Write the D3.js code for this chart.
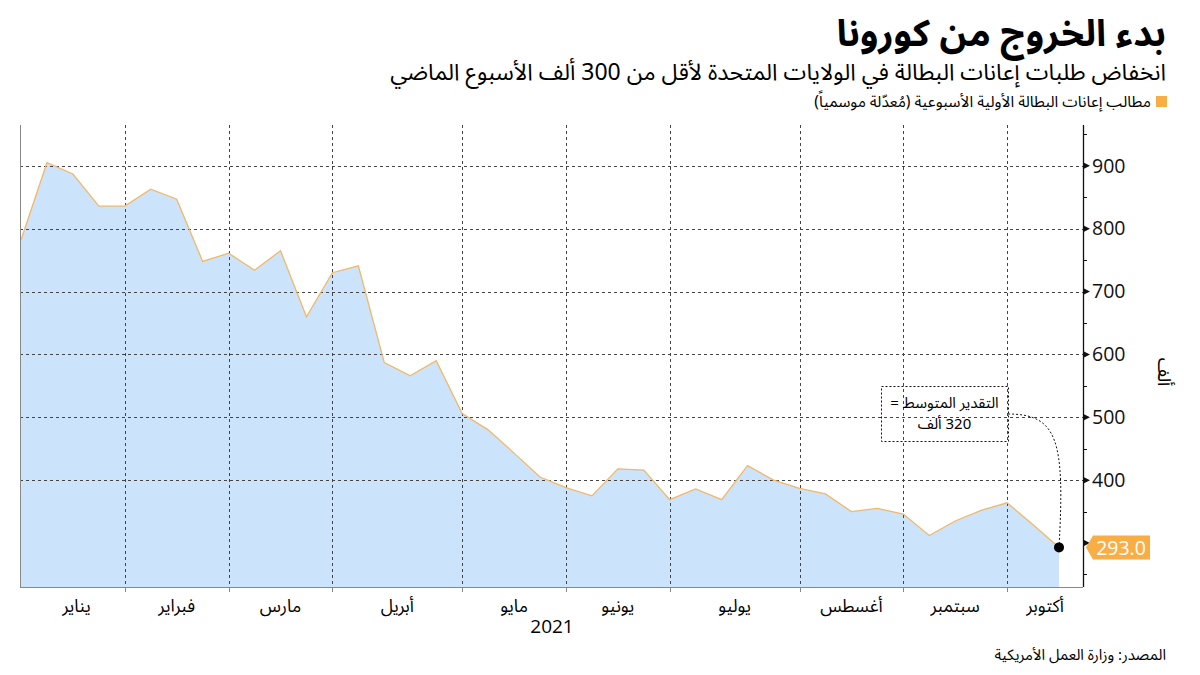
<!DOCTYPE html>
<html>
<head>
<meta charset="utf-8">
<script src="https://cdn.jsdelivr.net/npm/d3@7"></script>
<style>
  body { margin: 0; background: #fff; }
  text { font-family: "Noto Sans Arabic", "DejaVu Sans", sans-serif; }
  .num { font-family: "Open Sans", "DejaVu Sans", sans-serif; }
</style>
</head>
<body>
<div id="chart"></div>
<script>
// weekly dates (week ending) and initial claims in thousands
let weeks = [
  "2021-01-02", "2021-01-09", "2021-01-16", "2021-01-23", "2021-01-30",
  "2021-02-06", "2021-02-13", "2021-02-20", "2021-02-27", "2021-03-06",
  "2021-03-13", "2021-03-20", "2021-03-27", "2021-04-03", "2021-04-10",
  "2021-04-17", "2021-04-24", "2021-05-01", "2021-05-08", "2021-05-15",
  "2021-05-22", "2021-05-29", "2021-06-05", "2021-06-12", "2021-06-19",
  "2021-06-26", "2021-07-03", "2021-07-10", "2021-07-17", "2021-07-24",
  "2021-07-31", "2021-08-07", "2021-08-14", "2021-08-21", "2021-08-28",
  "2021-09-04", "2021-09-11", "2021-09-18", "2021-09-25", "2021-10-02",
  "2021-10-09"
];
let claims = [
  782, 905, 887, 836, 836, 863, 847, 748, 761, 734,
  765, 660, 730, 741, 587, 566, 590, 506, 480, 443,
  405, 388, 375, 418, 416, 369, 386, 369, 423, 400,
  387, 378, 350, 355, 346, 312, 335, 352, 364, 329,
  293
];
let monthBreaks = [
  "2021-01-30", "2021-02-27", "2021-03-27", "2021-05-01", "2021-05-29",
  "2021-06-26", "2021-07-31", "2021-08-28", "2021-09-25"
];
let monthNames = [
  "يناير", "فبراير", "مارس", "أبريل", "مايو",
  "يونيو", "يوليو", "أغسطس", "سبتمبر", "أكتوبر"
];
let yTicks = [300, 400, 500, 600, 700, 800, 900];
let yMinorTicks = [250, 350, 450, 550, 650, 750, 850, 950];

let svgWidth = 1200;
let svgHeight = 675;

//plot area
let plot = { left: 20, right: 1083, top: 125, bottom: 587 };

let parse = d3.timeParse("%Y-%m-%d");
let data = weeks.map((w, i) => ({ date: parse(w), value: claims[i] }));

let svg = d3
  .select("#chart")
  .append("svg")
  .attr("width", svgWidth)
  .attr("height", svgHeight);

let xScale = d3
  .scaleTime()
  .domain(d3.extent(data, (d) => d.date))
  .range([plot.left + 1, 1059]);

let yScale = d3
  .scaleLinear()
  .domain([230, 965])
  .range([plot.bottom, plot.top]);

/********************************************/
//titles
svg.append("text")
  .attr("x", 1166).attr("y", 46)
  .attr("direction", "rtl").attr("text-anchor", "start")
  .attr("font-size", 37).attr("font-weight", "bold")
  .text("بدء الخروج من كورونا");

svg.append("text")
  .attr("x", 1166).attr("y", 80)
  .attr("direction", "rtl").attr("text-anchor", "start")
  .attr("font-size", 23)
  .text("انخفاض طلبات إعانات البطالة في الولايات المتحدة لأقل من 300 ألف الأسبوع الماضي");

svg.append("rect")
  .attr("x", 1156).attr("y", 96).attr("width", 11).attr("height", 11)
  .attr("fill", "#f9ae45");

svg.append("text")
  .attr("x", 1151).attr("y", 107)
  .attr("direction", "rtl").attr("text-anchor", "start")
  .attr("font-size", 15.5)
  .text("مطالب إعانات البطالة الأولية الأسبوعية (مُعدّلة موسمياً)");

/********************************************/
//area and line
let area = d3.area()
  .x((d) => xScale(d.date))
  .y0(plot.bottom)
  .y1((d) => yScale(d.value));

let line = d3.line()
  .x((d) => xScale(d.date))
  .y((d) => yScale(d.value));

svg.append("path")
  .datum(data)
  .attr("d", area)
  .attr("fill", "#cce4fb");

/********************************************/
//gridlines
svg.append("g")
  .selectAll("line")
  .data(yTicks.filter((t) => t > 300))
  .enter()
  .append("line")
  .attr("x1", plot.left).attr("x2", plot.right)
  .attr("y1", (d) => Math.round(yScale(d)) + 0.5)
  .attr("y2", (d) => Math.round(yScale(d)) + 0.5)
  .attr("stroke", "#444")
  .attr("stroke-dasharray", "3,3");

svg.append("g")
  .selectAll("line")
  .data(monthBreaks)
  .enter()
  .append("line")
  .attr("x1", (d) => Math.round(xScale(parse(d))) + 0.5)
  .attr("x2", (d) => Math.round(xScale(parse(d))) + 0.5)
  .attr("y1", plot.top).attr("y2", plot.bottom)
  .attr("stroke", "#444")
  .attr("stroke-dasharray", "3,3");

svg.append("path")
  .datum(data)
  .attr("d", line)
  .attr("fill", "none")
  .attr("stroke", "#f3b766")
  .attr("stroke-width", 1.3);

/********************************************/
//axes frame
svg.append("line")
  .attr("x1", plot.left + 0.5).attr("x2", plot.left + 0.5)
  .attr("y1", plot.top).attr("y2", plot.bottom)
  .attr("stroke", "#888");

svg.append("line")
  .attr("x1", plot.left).attr("x2", plot.right)
  .attr("y1", plot.bottom + 0.5).attr("y2", plot.bottom + 0.5)
  .attr("stroke", "#888");

//x ticks
svg.append("g")
  .selectAll("line")
  .data(monthBreaks)
  .enter()
  .append("line")
  .attr("x1", (d) => Math.round(xScale(parse(d))) + 0.5)
  .attr("x2", (d) => Math.round(xScale(parse(d))) + 0.5)
  .attr("y1", plot.bottom).attr("y2", plot.bottom + 5)
  .attr("stroke", "#888");

//month labels centred between breaks
let edges = [plot.left + 8]
  .concat(monthBreaks.map((d) => xScale(parse(d))))
  .concat([plot.right]);

svg.append("g")
  .selectAll("text")
  .data(monthNames)
  .enter()
  .append("text")
  .attr("x", (d, i) => (edges[i] + edges[i + 1]) / 2)
  .attr("y", 612)
  .attr("text-anchor", "middle")
  .attr("font-size", 17.5)
  .text((d) => d);

svg.append("text")
  .attr("class", "num")
  .attr("x", 552).attr("y", 633)
  .attr("text-anchor", "middle")
  .attr("font-size", 19)
  .text("2021");

//y axis on the right
let yAxis = d3.axisRight(yScale)
  .tickValues(yTicks)
  .tickSize(0)
  .tickPadding(9);

let yAxisGroup = svg.append("g")
  .attr("transform", `translate(${plot.right}, 0)`)
  .call(yAxis);

yAxisGroup.select(".domain").remove();
yAxisGroup.selectAll("text")
  .attr("class", "num")
  .attr("font-size", 19.5)
  .attr("fill", "#111");

svg.append("line")
  .attr("x1", plot.right + 0.5).attr("x2", plot.right + 0.5)
  .attr("y1", plot.top).attr("y2", plot.bottom)
  .attr("stroke", "#111")
  .attr("stroke-width", 1.3);

//triangle markers for major ticks
svg.append("g")
  .selectAll("path")
  .data(yTicks)
  .enter()
  .append("path")
  .attr("d", (d) => {
    let y = yScale(d);
    return `M${plot.right},${y - 3.5}L${plot.right + 7},${y}L${plot.right},${y + 3.5}Z`;
  })
  .attr("fill", "#111");

svg.append("g")
  .selectAll("line")
  .data(yMinorTicks)
  .enter()
  .append("line")
  .attr("x1", plot.right).attr("x2", plot.right + 4)
  .attr("y1", (d) => Math.round(yScale(d)) + 0.5)
  .attr("y2", (d) => Math.round(yScale(d)) + 0.5)
  .attr("stroke", "#111");

svg.append("text")
  .attr("transform", "translate(1158, 372) rotate(90)")
  .attr("text-anchor", "middle")
  .attr("font-size", 18)
  .text("ألف");

/********************************************/
//last value marker and annotation
let last = data[data.length - 1];
let lx = xScale(last.date);
let ly = yScale(last.value);

svg.append("circle")
  .attr("cx", lx).attr("cy", ly).attr("r", 5)
  .attr("fill", "#000");

svg.append("path")
  .attr("d", `M${plot.right + 3},${ly}L${plot.right + 10},${ly - 12}L1150,${ly - 12}L1150,${ly + 12}L${plot.right + 10},${ly + 12}Z`)
  .attr("fill", "#f9ae45");

svg.append("text")
  .attr("class", "num")
  .attr("x", 1121).attr("y", ly + 7.5)
  .attr("text-anchor", "middle")
  .attr("font-size", 19.5)
  .attr("fill", "#fff")
  .text(last.value.toFixed(1));

let box = { x: 881, y: 386, w: 127, h: 55 };

svg.append("rect")
  .attr("x", box.x + 0.5).attr("y", box.y + 0.5)
  .attr("width", box.w).attr("height", box.h)
  .attr("fill", "none")
  .attr("stroke", "#111")
  .attr("stroke-dasharray", "2,2");

svg.append("text")
  .attr("x", box.x + box.w / 2).attr("y", box.y + 22)
  .attr("text-anchor", "middle")
  .attr("direction", "rtl")
  .attr("font-size", 15)
  .text("التقدير المتوسط =");

svg.append("text")
  .attr("x", box.x + box.w / 2).attr("y", box.y + 43)
  .attr("text-anchor", "middle")
  .attr("direction", "rtl")
  .attr("font-size", 15)
  .text("320 ألف");

svg.append("path")
  .attr("d", `M${box.x + box.w},${box.y + 28}C${box.x + box.w + 50},${box.y + 28} ${lx + 6},${box.y + 55} ${lx},${ly}`)
  .attr("fill", "none")
  .attr("stroke", "#111")
  .attr("stroke-dasharray", "2,2");

/********************************************/
//source
svg.append("text")
  .attr("x", 1166).attr("y", 660)
  .attr("direction", "rtl").attr("text-anchor", "start")
  .attr("font-size", 15)
  .text("المصدر: وزارة العمل الأمريكية");
</script>
</body>
</html>
